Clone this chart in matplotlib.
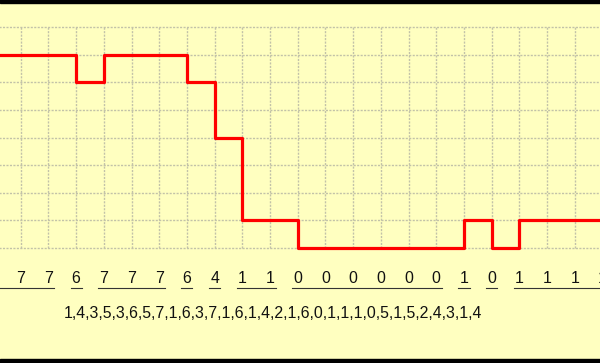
import numpy as np
import matplotlib.pyplot as plt

# sample values, one per grid column (first and last are cut off by the frame)
levels = [7, 7, 7, 6, 7, 7, 7, 6, 4, 1, 1, 0, 0, 0, 0, 0, 0, 1, 0, 1, 1, 1, 1]
positions = np.arange(-1, len(levels) - 1)
sequence = "1,4,3,5,3,6,5,7,1,6,3,7,1,6,1,4,2,1,6,0,1,1,1,0,5,1,5,2,4,3,1,4"

bg = '#ffffc0'
fig = plt.figure(figsize=(6, 3.63), dpi=100, facecolor=bg)
ax = fig.add_axes([0, 0, 1, 1])
ax.set_facecolor(bg)
ax.set_xlim(-0.747, 20.91)
ax.set_ylim(-4.17, 8.99)
ax.axis('off')

# black bars top and bottom
ax.axhspan(8.88, 9.1, color='black', zorder=5)
ax.axhspan(-4.3, -4.02, color='black', zorder=5)

# grid
grid_kw = dict(color='#c2c2a8', linewidth=1.0, linestyle=(0, (1.5, 1)), zorder=1)
ax.hlines(np.arange(0, 9), -1, 22, **grid_kw)
ax.vlines(np.arange(0, 21), 0, 8, **grid_kw)

# step line
xs = np.append(positions, positions[-1] + 1)
ys = np.append(levels, levels[-1])
ax.step(xs, ys, where='post', color='#ff0000', linewidth=2.3, zorder=3)

# digits (the one left of the frame is not visible) and underlines of runs
for x, v in zip(positions, levels):
    if x < 0:
        continue
    ax.text(x, -1.09, str(v), ha='center', va='center', fontsize=11.4,
            family='Liberation Sans', color='#111111')
start = 0
for i in range(1, len(levels) + 1):
    if i == len(levels) or levels[i] != levels[start]:
        ax.plot([positions[start] - 0.2, positions[i - 1] + 0.2], [-1.45, -1.45],
                color='#333333', linewidth=0.8)
        start = i

ax.text(1.56, -2.36, sequence, ha='left', va='center', fontsize=11.4,
        family='Liberation Sans', color='#111111')

plt.savefig('out.png', dpi=100, facecolor=bg)
